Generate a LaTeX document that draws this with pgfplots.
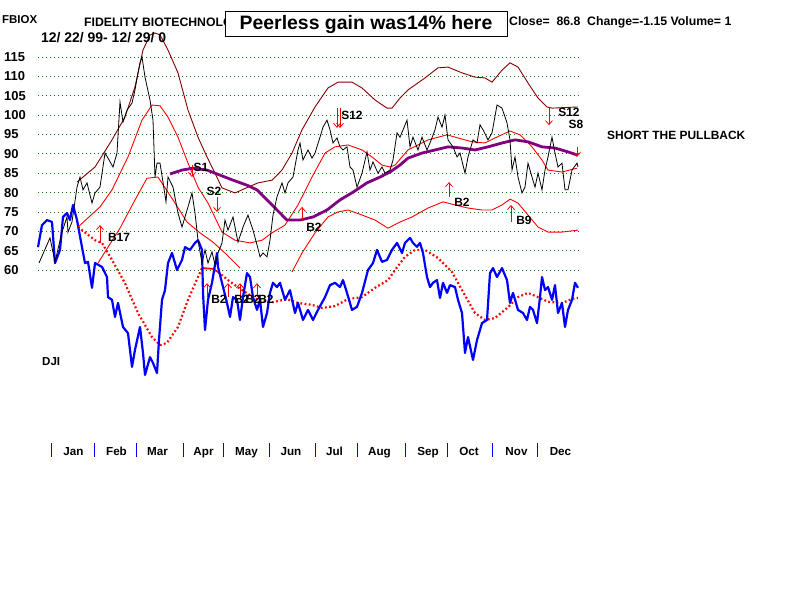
\documentclass[border=0pt]{standalone}
\usepackage{fontspec}
\setmainfont{Liberation Sans}
\usepackage{pgfplots}
\pgfplotsset{compat=1.18}
\usetikzlibrary{arrows.meta}
\definecolor{gridg}{RGB}{0,128,0}
\definecolor{maroonc}{RGB}{128,0,0}
\definecolor{purplec}{RGB}{128,0,128}
\definecolor{bluec}{RGB}{0,0,255}
\newcommand{\fs}[1]{\fontsize{#1}{#1}\selectfont\bfseries}
\begin{document}
\begin{tikzpicture}
\begin{axis}[
  width=800bp, height=600bp, scale only axis,
  xmin=0, xmax=800, ymin=-25.2, ymax=129.72,
  axis line style={draw=none},
  xtick=\empty,
  ytick={60,65,...,115},
  major tick length=0pt,
  yticklabel style={anchor=west, inner sep=0pt, xshift=4bp, font=\fs{13}},
  /pgf/number format/assume math mode=true,
  clip=false,
]
\coordinate (BL) at (rel axis cs:0,0);
\coordinate (TR) at (rel axis cs:1,1);

% grid lines
\pgfplotsinvokeforeach{60,65,...,115}{
  \addplot[gridg, line width=0.8bp, dash pattern=on 0.8bp off 3.2bp] coordinates {(38,#1) (580,#1)};
}

% month ticks
\pgfplotsinvokeforeach{51,94,136,183,223,269,315,357,405,447,492,537}{
  \addplot[bluec, line width=1bp] coordinates {(#1,15.3) (#1,11.7)};
}

% DJI moving average (dotted)
\tikzset{dots/.style={red, line width=2.2bp, dash pattern=on 1.8bp off 2.4bp}}
\addplot[dots] coordinates {
(78,71.1) (95,67.7) (102,67.0) (112,62.6) (125,56.6) (138,48.9) (152,42.7) (160,40.6) (167,41.2)
(178,45.3) (188,52.3) (198,58.2) (202,60.5)};
\addplot[red, line width=1.8bp] coordinates {(202,60.5) (213,60.3) (218,59.5)};
\addplot[dots] coordinates {
(218,59.5) (228,57.4) (242,54.8) (258,52.3) (273,51.7) (287,52.5) (298,51.5) (312,51.0) (322,50.2)
(335,50.7) (348,52.5) (362,53.0) (375,55.4) (388,57.4) (395,60.0) (405,63.4) (415,65.2) (425,65.2)
(438,63.1) (452,59.5) (462,54.8) (475,48.9) (485,47.1) (495,47.6) (508,50.4) (518,53.0) (528,54.1)
(538,53.0) (548,51.8) (562,51.5) (575,52.8) (578,52.8)};

% DJI
\addplot[bluec, line width=2.2bp, line join=round] coordinates {
(38,65.9) (42,71.6) (47,72.9) (52,72.4) (55,61.8) (60,65.2) (63,73.7) (67,74.7) (70,72.9) (73,76.8)
(77,72.9) (82,65.9) (85,61.8) (88,62.1) (92,55.4) (95,61.8) (102,60.8) (107,58.2) (108,53.0) (112,52.3)
(115,47.9) (118,51.5) (123,45.3) (128,43.7) (132,35.0) (135,39.4) (140,45.3) (143,38.6) (145,32.9)
(150,37.5) (153,36.0) (157,33.4) (159,42.0) (162,52.3) (165,54.8) (168,61.8) (172,64.4) (177,60.0)
(182,62.6) (185,65.9) (190,65.2) (195,67.0) (198,67.7) (202,65.2) (203,54.1) (205,44.5) (208,52.3)
(212,56.7) (217,64.4) (218,60.8) (222,56.7) (227,51.5) (230,47.9) (233,53.0) (237,52.3) (240,47.1)
(243,53.0) (247,59.2) (250,58.2) (253,53.0) (257,49.7) (260,52.3) (263,45.3) (267,48.9) (270,54.1)
(273,56.7) (277,55.6) (280,56.7) (285,52.3) (290,54.8) (295,48.9) (298,51.5) (303,47.1) (308,49.7)
(313,47.1) (318,49.7) (325,53.0) (330,56.1) (335,56.7) (340,55.6) (343,57.4) (347,54.1) (352,49.7)
(357,50.5) (362,54.1) (368,60.0) (373,61.8) (377,65.2) (382,62.1) (387,62.6) (392,65.2) (397,67.0)
(402,64.4) (405,67.0) (410,68.3) (413,67.0) (417,66.0) (420,67.0) (423,64.4) (427,58.2) (430,55.6)
(433,56.7) (437,57.4) (440,52.8) (443,56.7) (447,54.1) (450,56.1) (455,55.6) (458,52.3) (462,48.9)
(465,38.6) (468,42.7) (473,36.8) (477,41.9) (482,46.3) (487,47.1) (490,59.2) (493,60.5) (497,58.2)
(502,60.5) (507,57.4) (510,51.5) (513,54.1) (518,49.7) (523,48.9) (527,47.1) (530,50.5) (533,49.7)
(537,46.3) (540,53.0) (542,58.2) (545,54.8) (548,55.6) (552,52.3) (555,56.1) (558,48.9) (562,51.5)
(565,45.3) (568,49.7) (572,52.3) (575,56.7) (578,55.4)};

% outer upper band
\addplot[maroonc, line width=0.9bp] coordinates {
(77,82.7) (95,86.6) (112,93.6) (125,99.5) (135,107.3) (143,116.8) (150,120.7) (155,121.2) (160,120.7)
(168,116.8) (178,110.9) (188,101.3) (198,94.3) (207,89.2) (215,85.0) (222,81.2) (235,79.9) (248,81.4)
(258,82.5) (272,83.2) (282,85.8) (292,90.2) (302,96.2) (315,102.1) (328,107.0) (338,108.5) (352,108.5)
(362,107.0) (375,103.9) (387,101.8) (392,101.8) (400,104.4) (408,106.5) (425,109.6) (438,112.2)
(448,112.4) (462,110.9) (475,109.8) (485,109.6) (492,108.5) (502,111.6) (510,113.5) (518,112.4)
(528,108.3) (538,104.4) (547,102.1) (552,101.8) (578,102.1)};

% red band A
\addplot[red, line width=0.9bp] coordinates {
(78,71.1) (100,76.3) (112,80.7) (128,89.2) (142,98.7) (152,102.6) (160,102.4) (168,99.5) (178,94.3)
(188,87.6) (198,81.4) (208,77.3) (222,69.8) (235,67.7) (250,67.0) (262,67.7) (272,69.6) (285,71.6)
(298,76.8) (312,84.0) (325,90.2) (335,91.8) (348,92.3) (362,91.0) (372,89.2) (382,87.1) (390,86.6)
(395,87.1) (408,91.0) (428,93.6) (447,94.9) (458,94.1) (472,93.1) (485,92.8) (495,94.1) (510,95.9)
(520,94.9) (532,91.8) (542,88.4) (548,85.8) (562,85.3) (577,86.3)};

% red band B
\addplot[red, line width=0.9bp] coordinates {
(98,61.8) (120,70.8) (135,78.1) (147,83.7) (158,84.0) (173,78.1) (187,72.4) (200,69.6) (213,67.2)
(227,63.9) (240,60.5)};

% red band C
\addplot[red, line width=0.9bp] coordinates {
(292,59.5) (302,64.4) (315,69.6) (328,73.7) (338,75.0) (348,75.5) (362,74.2) (375,72.9) (388,70.8)
(400,72.4) (412,73.7) (428,76.0) (443,77.6) (455,76.8) (468,76.0) (482,75.5) (492,75.5) (502,76.8)
(510,78.3) (518,77.3) (528,74.2) (538,71.1) (548,69.8) (562,69.8) (578,70.3)};

% moving average
\addplot[purplec, line width=2.8bp, line join=round] coordinates {
(170,84.8) (182,85.8) (193,86.3) (207,85.8) (220,84.5) (233,83.2) (247,81.9) (257,80.7) (267,78.1)
(277,75.5) (287,72.9) (300,72.9) (313,73.7) (327,75.5) (340,78.1) (353,80.1) (367,82.5) (380,84.0)
(390,85.3) (400,87.1) (408,88.9) (422,90.2) (435,91.0) (448,91.8) (462,91.5) (475,91.0) (488,91.8)
(502,92.8) (515,93.6) (528,93.1) (542,91.8) (555,91.5) (568,90.5) (577,89.7)};

% price
\addplot[black, line width=0.8bp] coordinates {
(39,61.8) (50,68.3) (55,62.1) (62,69.8) (67,73.7) (68,69.8) (72,72.4) (77,81.4) (80,84.0) (83,80.7)
(87,82.5) (92,77.3) (95,79.9) (100,81.4) (105,90.2) (108,88.9) (113,86.6) (117,90.2) (120,103.4)
(123,98.2) (127,101.3) (132,103.1) (135,106.5) (138,110.9) (140,113.5) (142,115.0) (145,109.8)
(150,103.9) (153,98.7) (155,84.0) (157,87.6) (160,87.6) (163,82.7) (166,77.6) (168,84.0) (173,81.4)
(178,74.7) (182,71.1) (185,73.7) (188,76.3) (192,79.9) (195,74.7) (198,67.7) (202,61.8) (205,65.2)
(208,61.8) (212,64.7) (215,61.3) (218,64.4) (222,67.0) (225,72.9) (228,70.3) (233,73.7) (238,67.2)
(243,71.1) (248,74.2) (253,70.3) (257,66.5) (260,63.4) (263,64.4) (267,63.4) (270,67.7) (273,74.2)
(277,78.9) (282,82.5) (285,79.9) (288,82.5) (293,84.0) (298,91.0) (300,92.8) (303,88.4) (308,91.0)
(312,88.9) (315,90.2) (320,94.3) (323,96.9) (327,98.7) (330,96.2) (333,92.8) (337,94.1) (340,91.8)
(343,91.0) (347,91.8) (350,86.6) (353,85.8) (357,81.4) (362,85.0) (367,90.5) (370,85.8) (373,87.9)
(378,85.0) (382,86.6) (385,85.0) (390,85.8) (393,88.4) (397,95.4) (400,94.3) (407,98.7) (410,91.8)
(413,94.3) (418,91.0) (422,94.3) (427,91.0) (430,92.8) (435,96.2) (438,99.5) (442,96.9) (445,100.0)
(448,93.6) (453,91.8) (457,89.2) (460,90.2) (465,85.0) (468,89.2) (473,93.6) (477,92.8) (480,97.5)
(483,96.2) (488,93.6) (492,95.4) (497,102.6) (502,101.8) (507,98.0) (510,93.6) (512,85.8) (515,89.2)
(518,84.0) (522,79.9) (525,81.4) (528,87.6) (532,84.0) (535,81.4) (538,85.0) (542,80.7) (545,85.8)
(548,89.2) (552,94.3) (555,90.2) (558,86.6) (562,87.6) (565,80.7) (568,80.7) (572,85.8) (577,87.6)
(578,86.6)};

% signal arrows
\tikzset{sig/.style={red, line width=0.8bp, -{Straight Barb[length=4bp,width=7bp]}}}
\addplot[sig] coordinates {(100,67.0) (100,71.6)};
\addplot[sig] coordinates {(192,87.1) (192,84.0)};
\addplot[sig] coordinates {(217,78.9) (217,75.0)};
\addplot[sig] coordinates {(302,72.9) (302,76.3)};
\addplot[sig] coordinates {(337,101.8) (337,96.7)};
\addplot[sig] coordinates {(340,101.8) (340,96.7)};
\addplot[sig] coordinates {(449,78.9) (449,82.7)};
\addplot[sig] coordinates {(511,72.4) (511,76.8)};
\addplot[sig] coordinates {(549,101.8) (549,97.4)};
\addplot[sig] coordinates {(577,91.8) (577,89.2)};
\addplot[sig] coordinates {(207,53.0) (207,56.6)};
\addplot[sig] coordinates {(228,53.0) (228,56.6)};
\addplot[sig] coordinates {(240,53.0) (240,56.6)};
\addplot[sig] coordinates {(257,53.0) (257,56.6)};

% signal labels
\begin{scope}[every node/.style={inner sep=0pt, font=\fs{12}}]
\node at (axis cs:119,68.3) {B17};
\node at (axis cs:201,86.6) {S1};
\node at (axis cs:214,80.4) {S2};
\node at (axis cs:314,71.1) {B2};
\node at (axis cs:352,100.0) {S12};
\node at (axis cs:462,77.6) {B2};
\node at (axis cs:524,72.7) {B9};
\node at (axis cs:569,100.6) {S12};
\node at (axis cs:576,97.6) {S8};
\node at (axis cs:219,52.5) {B2};
\node at (axis cs:242,52.5) {B2};
\node at (axis cs:253,52.5) {B2};
\node at (axis cs:266,52.5) {B2};
\end{scope}

% header texts
\node[anchor=west, inner sep=0pt, font=\fs{11.5}] at (axis cs:2,124.56) {FBIOX};
\node[anchor=west, inner sep=0pt, font=\fs{12.3}] at (axis cs:84,124.04) {FIDELITY BIOTECHNOLOGY};
\node[anchor=west, inner sep=0pt, font=\fs{14}] at (axis cs:41,119.9) {12/ 22/ 99- 12/ 29/ 0};
\node[draw=black, fill=white, line width=1bp, minimum width=282bp, minimum height=25bp, inner sep=0pt,
      font=\fs{19.5}] at (axis cs:366,123.4) {Peerless gain was14\% here};
\node[anchor=west, inner sep=0pt, font=\fs{12.3}] at (axis cs:509,124.04) {Close=\ \ 86.8\ \ Change=-1.15 Volume= 1};
\node[anchor=west, inner sep=0pt, font=\fs{12}] at (axis cs:607,94.86) {SHORT THE PULLBACK};
\node[anchor=west, inner sep=0pt, font=\fs{11.6}] at (axis cs:42,36.25) {DJI};

% months
\begin{scope}[every node/.style={inner sep=0pt, anchor=base, font=\fs{11.7}}]
\node at (axis cs:73.5,12.2) {Jan};
\node at (axis cs:116.5,12.2) {Feb};
\node at (axis cs:157.5,12.2) {Mar};
\node at (axis cs:203.5,12.2) {Apr};
\node at (axis cs:246.5,12.2) {May};
\node at (axis cs:291,12.2) {Jun};
\node at (axis cs:334.5,12.2) {Jul};
\node at (axis cs:379.5,12.2) {Aug};
\node at (axis cs:428,12.2) {Sep};
\node at (axis cs:469,12.2) {Oct};
\node at (axis cs:516.5,12.2) {Nov};
\node at (axis cs:560.5,12.2) {Dec};
\end{scope}
\end{axis}
\pgfresetboundingbox
\path[use as bounding box] (BL) rectangle (TR);
\end{tikzpicture}
\end{document}
